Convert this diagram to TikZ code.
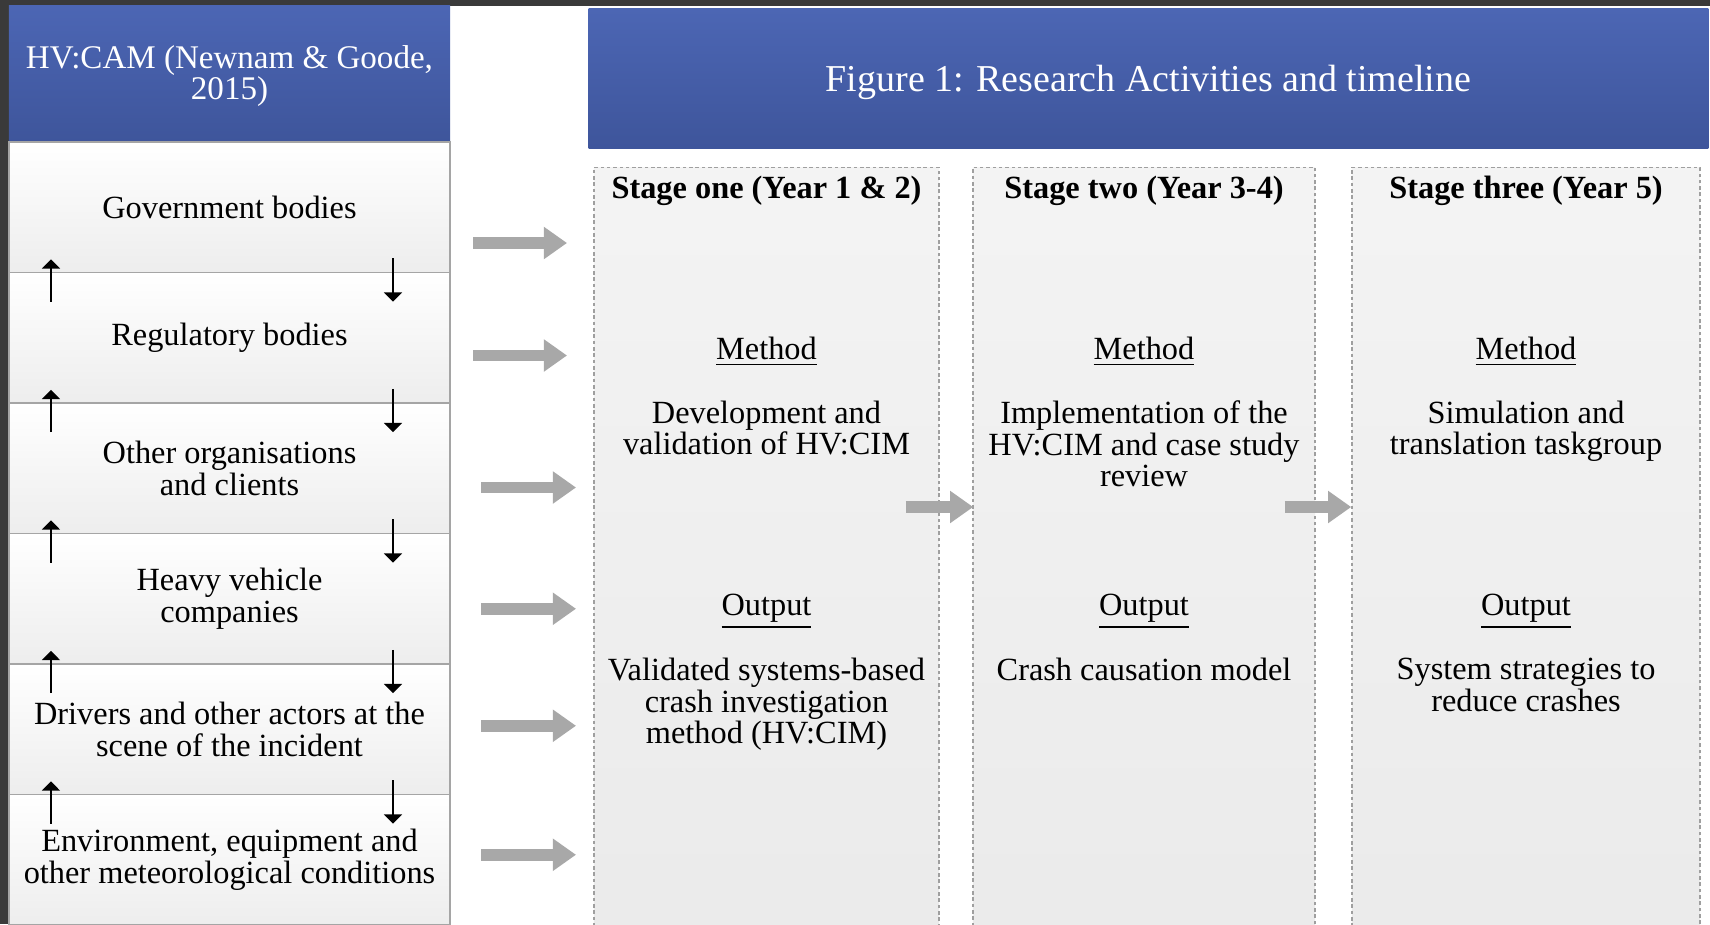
\documentclass[tikz,border=0pt]{standalone}
\usepackage{fontspec}
\setmainfont{Liberation Serif}
\usetikzlibrary{arrows.meta,calc}
\definecolor{hdblue}{RGB}{76,102,180}
\definecolor{hdbluedark}{RGB}{62,85,155}
\definecolor{frame}{RGB}{58,58,58}
\definecolor{rowline}{RGB}{165,165,165}
\definecolor{pipe}{RGB}{168,168,168}
\begin{document}
\begin{tikzpicture}[x=0.01cm,y=-0.01cm,
  every node/.style={font=\fontsize{9.2}{9}\selectfont},
  header/.style={top color=hdblue,bottom color=hdbluedark,text=white,inner sep=0pt,align=center},
  layer/.style={draw=rowline,line width=0.5pt,top color=white,bottom color=gray!14,minimum width=4.41cm,minimum height=1.305cm,inner sep=0pt,align=center},
  stage/.style={draw=gray!75,line width=0.4pt,dash pattern=on 1pt off 0.8pt,top color=gray!9,bottom color=gray!16,minimum height=7.625cm,inner sep=0pt},
  stagehead/.style={anchor=base,font=\fontsize{9.2}{9}\selectfont\bfseries},
  desc/.style={anchor=north,align=center,inner sep=0pt},
  link/.style={line width=0.75pt,-{Triangle[width=5pt,length=2.6pt]}},
  feed/.style={pipe,line width=3.3pt,-{Triangle[width=8.8pt,length=6.6pt]}}]
\useasboundingbox (0,0) rectangle (1710,924);
\fill[white] (0,0) rectangle (1710,924);
\fill[frame] (0,0) rectangle (1710,6);
\fill[frame] (0,0) rectangle (9,924);

\node[header,minimum width=4.41cm,minimum height=1.36cm] (cam) at (229.5,74) {};
\node[text=white,align=center,font=\fontsize{9.4}{9}\selectfont] (camtext) at (229.5,76) {HV:CAM (Newnam \& Goode,\\2015)};
\node[header,minimum width=11.19cm,minimum height=1.39cm] (title) at (1148.5,78.5) {};
\node[text=white,font=\fontsize{10.8}{11}\selectfont] (titletext) at (1148.5,82) {Figure 1: Research Activities and timeline};

\node[layer] (gov) at (229.5,207.25) {Government bodies};
\node[layer] (reg) at (229.5,337.75) {Regulatory bodies};
\node[layer] (org) at (229.5,468.25) {Other organisations\\and clients};
\node[layer] (hvc) at (229.5,598.75) {Heavy vehicle\\companies};
\node[layer] (drv) at (229.5,729.25) {Drivers and other actors at the\\scene of the incident};
\node[layer] (env) at (229.5,859.75) {Environment, equipment and\\other meteorological conditions};

\draw[link] ($(reg.north west)+(43,30)$) -- ($(gov.south west)+(43,-14)$);
\draw[link] ($(gov.south east)+(-58,-15)$) -- ($(reg.north east)+(-58,30)$);
\draw[link] ($(org.north west)+(43,30)$) -- ($(reg.south west)+(43,-14)$);
\draw[link] ($(reg.south east)+(-58,-15)$) -- ($(org.north east)+(-58,30)$);
\draw[link] ($(hvc.north west)+(43,30)$) -- ($(org.south west)+(43,-14)$);
\draw[link] ($(org.south east)+(-58,-15)$) -- ($(hvc.north east)+(-58,30)$);
\draw[link] ($(drv.north west)+(43,30)$) -- ($(hvc.south west)+(43,-14)$);
\draw[link] ($(hvc.south east)+(-58,-15)$) -- ($(drv.north east)+(-58,30)$);
\draw[link] ($(env.north west)+(43,30)$) -- ($(drv.south west)+(43,-14)$);
\draw[link] ($(drv.south east)+(-58,-15)$) -- ($(env.north east)+(-58,30)$);

\node[stage,minimum width=3.45cm] (one) at (766.5,548.75) {};
\node[stage,minimum width=3.42cm] (two) at (1144,548.75) {};
\node[stage,minimum width=3.48cm] (three) at (1526,548.75) {};

\draw[feed] ($(gov.east)+(22,35.75)$) -- ++(94,0);
\draw[feed] ($(reg.east)+(22,17.75)$) -- ++(94,0);
\draw[feed] ($(org.east)+(30,19.25)$) -- ++(95,0);
\draw[feed] ($(hvc.east)+(30,10)$) -- ++(95,0);
\draw[feed] ($(drv.east)+(30,-3.5)$) -- ++(95,0);
\draw[feed] ($(env.east)+(30,-5)$) -- ++(95,0);
\draw[feed] ($(one.east)+(-34,-41.75)$) -- ($(two.west)+(1,-41.75)$);
\draw[feed] ($(two.east)+(-31,-41.75)$) -- ($(three.west)+(0,-41.75)$);

\node[stagehead] (onehead) at (766.5,198) {Stage one (Year 1 \& 2)};
\node[stagehead] (twohead) at (1144,198) {Stage two (Year 3-4)};
\node[stagehead] (threehead) at (1526,198) {Stage three (Year 5)};

\node[anchor=base] (onemethod) at (766.5,359) {\underline{Method}};
\node[anchor=base] (twomethod) at (1144,359) {\underline{Method}};
\node[anchor=base] (threemethod) at (1526,359) {\underline{Method}};
\node[desc] (onework) at (766.5,400) {Development and\\validation of HV:CIM};
\node[desc] (twowork) at (1144,400) {Implementation of the\\HV:CIM and case study\\review};
\node[desc] (threework) at (1526,400) {Simulation and\\translation taskgroup};

\node[anchor=base] (oneoutput) at (766.5,615) {\underline{Output}};
\node[anchor=base] (twooutput) at (1144,615) {\underline{Output}};
\node[anchor=base] (threeoutput) at (1526,615) {\underline{Output}};
\node[desc] (oneresult) at (766.5,657.5) {Validated systems-based\\crash investigation\\method (HV:CIM)};
\node[desc] (tworesult) at (1144,657.5) {Crash causation model};
\node[desc] (threeresult) at (1526,657.5) {System strategies to\\reduce crashes};
\end{tikzpicture}
\end{document}
